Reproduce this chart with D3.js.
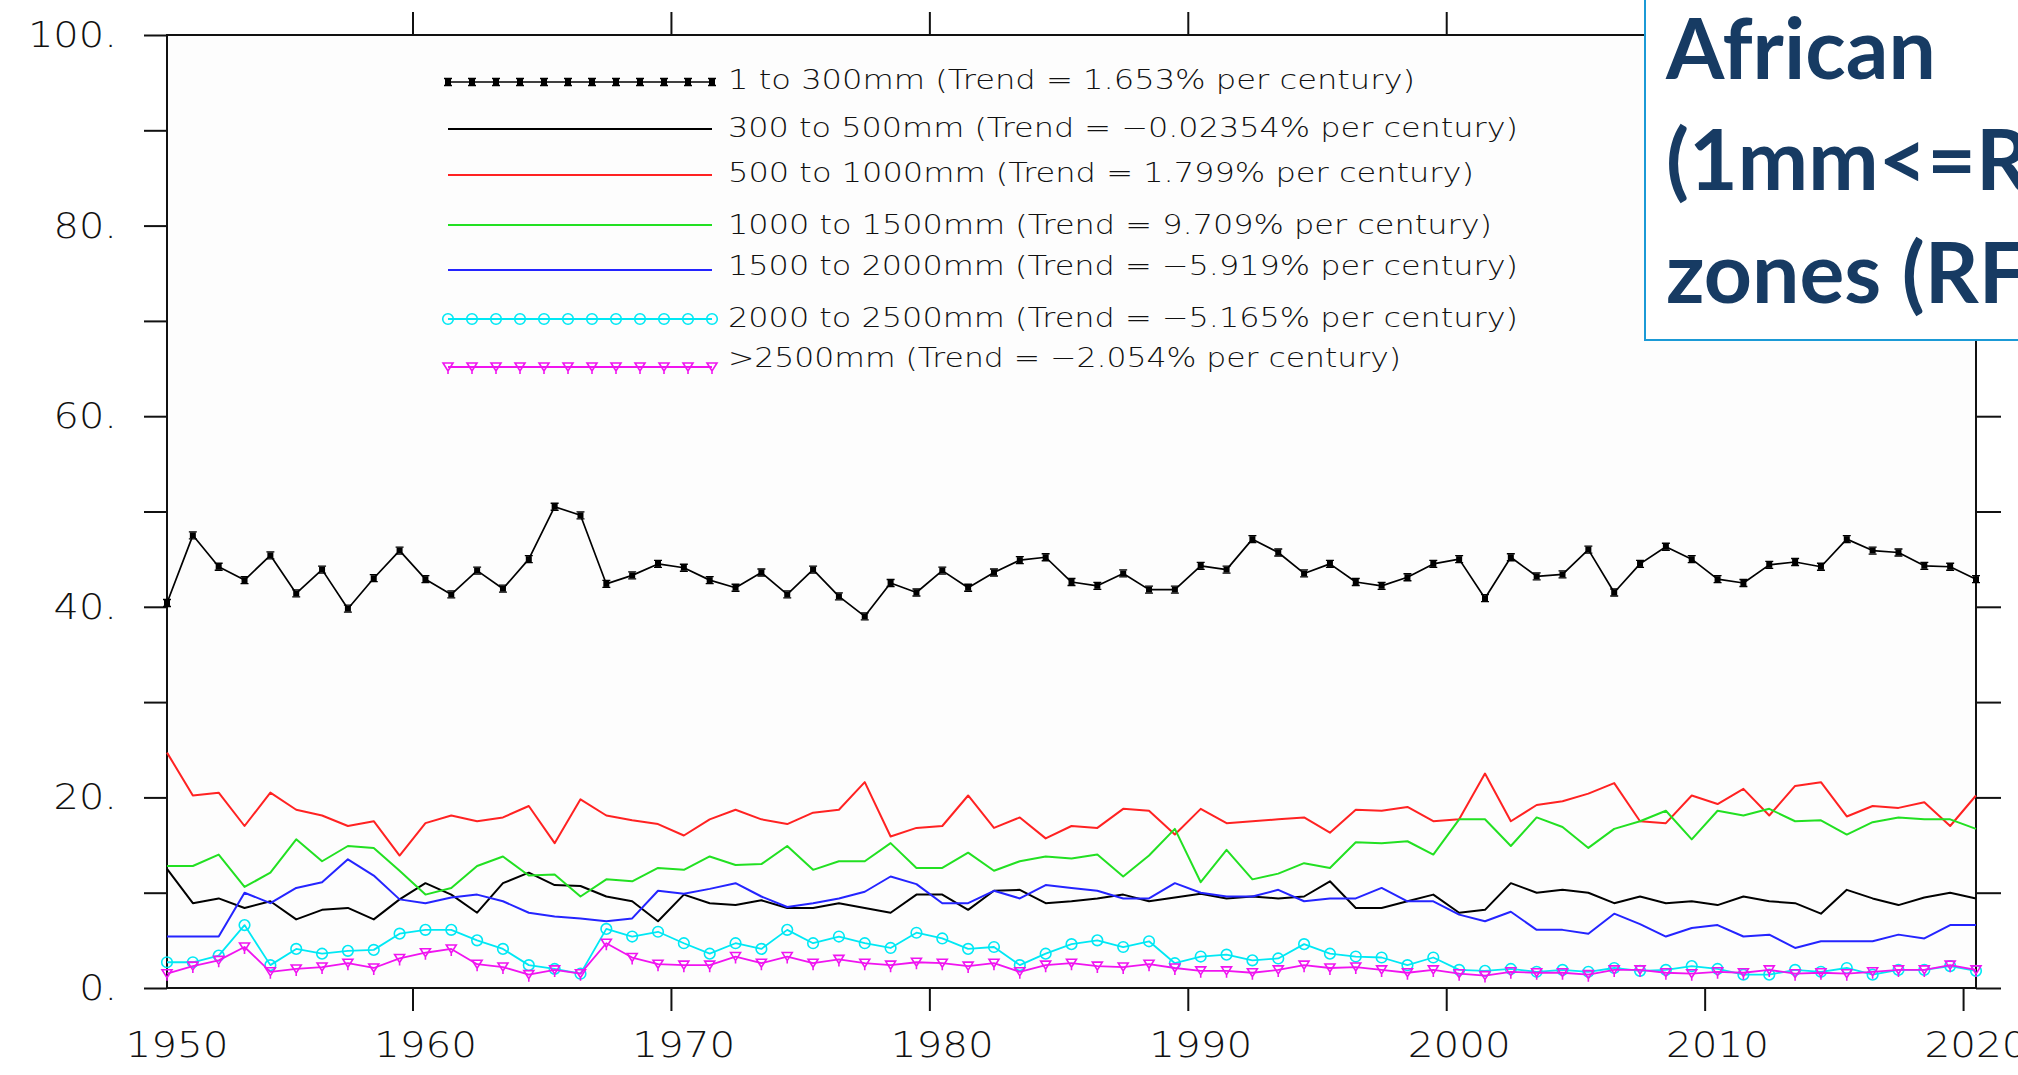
<!DOCTYPE html>
<html><head><meta charset="utf-8">
<script src="https://cdn.jsdelivr.net/npm/d3@7/dist/d3.min.js"></script>
<style>
html,body{margin:0;padding:0;background:#fff;overflow:hidden;}
svg{display:block;}
</style></head><body>
<svg id="chart" width="2018" height="1075"></svg>
<script>
// ---------------- DATA ----------------
const years = d3.range(1950, 2021); // 1950..2020

const s1to300 = [40.4, 47.5, 44.2, 42.8, 45.4, 41.4, 43.9, 39.8, 43.0, 45.9,
  42.9, 41.3, 43.8, 41.9, 45.0, 50.5, 49.6, 42.4, 43.3, 44.5,
  44.1, 42.8, 42.0, 43.6, 41.3, 43.9, 41.1, 39.0, 42.5, 41.5,
  43.8, 42.0, 43.6, 44.9, 45.2, 42.6, 42.2, 43.5, 41.8, 41.8,
  44.3, 43.9, 47.1, 45.7, 43.5, 44.5, 42.6, 42.2, 43.1, 44.5,
  45.0, 40.9, 45.2, 43.2, 43.4, 46.0, 41.5, 44.5, 46.3, 45.0,
  42.9, 42.5, 44.4, 44.7, 44.2, 47.1, 45.9, 45.7, 44.3, 44.2,
  42.9];
const s300to500 = [12.5, 8.9, 9.4, 8.4, 9.1, 7.2, 8.2, 8.4, 7.2, 9.3,
  11.0, 9.8, 7.9, 11.0, 12.1, 10.8, 10.7, 9.6, 9.1, 7.0,
  9.8, 8.9, 8.7, 9.2, 8.4, 8.4, 8.9, 8.4, 7.9, 9.8,
  9.8, 8.2, 10.2, 10.3, 8.9, 9.1, 9.4, 9.8, 9.1, 9.5,
  9.9, 9.4, 9.6, 9.4, 9.6, 11.2, 8.4, 8.4, 9.1, 9.8,
  7.9, 8.2, 11.0, 10.0, 10.3, 10.0, 8.9, 9.6, 8.9, 9.1,
  8.7, 9.6, 9.1, 8.9, 7.8, 10.3, 9.4, 8.7, 9.5, 10.0,
  9.4];
const s500to1000 = [24.7, 20.2, 20.5, 17.0, 20.5, 18.7, 18.1, 17.0, 17.5, 13.9,
  17.3, 18.1, 17.5, 17.9, 19.1, 15.2, 19.8, 18.1, 17.6, 17.2,
  16.0, 17.7, 18.7, 17.7, 17.2, 18.4, 18.7, 21.6, 15.9, 16.8,
  17.0, 20.2, 16.8, 17.9, 15.7, 17.0, 16.8, 18.8, 18.6, 16.1,
  18.8, 17.3, 17.5, 17.7, 17.9, 16.3, 18.7, 18.6, 19.0, 17.5,
  17.7, 22.5, 17.5, 19.2, 19.6, 20.4, 21.5, 17.5, 17.3, 20.2,
  19.3, 20.9, 18.1, 21.2, 21.6, 18.0, 19.1, 18.9, 19.5, 17.0,
  20.2];
const s1000to1500 = [12.8, 12.8, 14.0, 10.6, 12.1, 15.6, 13.3, 14.9, 14.7, 12.3,
  9.8, 10.5, 12.8, 13.8, 11.8, 11.9, 9.6, 11.4, 11.2, 12.6,
  12.4, 13.8, 12.9, 13.0, 14.9, 12.4, 13.3, 13.3, 15.2, 12.6,
  12.6, 14.2, 12.3, 13.3, 13.8, 13.6, 14.0, 11.7, 13.9, 16.7,
  11.1, 14.5, 11.4, 12.0, 13.1, 12.6, 15.3, 15.2, 15.4, 14.0,
  17.7, 17.7, 14.9, 17.9, 16.9, 14.7, 16.7, 17.5, 18.6, 15.6,
  18.6, 18.1, 18.8, 17.5, 17.6, 16.1, 17.4, 17.9, 17.7, 17.7,
  16.7];
const s1500to2000 = [5.4, 5.4, 5.4, 10.0, 8.9, 10.5, 11.1, 13.5, 11.8, 9.3,
  8.9, 9.5, 9.8, 9.1, 7.9, 7.5, 7.3, 7.0, 7.3, 10.2,
  9.9, 10.4, 11.0, 9.6, 8.5, 8.9, 9.4, 10.1, 11.7, 10.9,
  8.9, 8.9, 10.2, 9.4, 10.8, 10.5, 10.2, 9.4, 9.4, 11.0,
  10.0, 9.6, 9.6, 10.3, 9.1, 9.4, 9.4, 10.5, 9.1, 9.1,
  7.7, 7.0, 8.0, 6.1, 6.1, 5.7, 7.8, 6.7, 5.4, 6.3,
  6.6, 5.4, 5.6, 4.2, 4.9, 4.9, 4.9, 5.6, 5.2, 6.6,
  6.6];
const s2000to2500 = [2.7, 2.7, 3.4, 6.6, 2.4, 4.1, 3.6, 3.9, 4.0, 5.7,
  6.1, 6.1, 5.0, 4.1, 2.4, 2.0, 1.5, 6.2, 5.4, 5.9,
  4.7, 3.6, 4.7, 4.1, 6.1, 4.7, 5.4, 4.7, 4.2, 5.8,
  5.2, 4.1, 4.3, 2.4, 3.6, 4.6, 5.0, 4.3, 4.9, 2.6,
  3.3, 3.5, 2.9, 3.1, 4.6, 3.6, 3.3, 3.2, 2.4, 3.2,
  1.9, 1.8, 2.0, 1.7, 1.9, 1.7, 2.1, 1.8, 1.9, 2.3,
  2.0, 1.4, 1.4, 1.9, 1.7, 2.1, 1.4, 1.9, 1.9, 2.3,
  1.8];
const sOver2500 = [1.5, 2.3, 2.9, 4.3, 1.7, 2.0, 2.2, 2.6, 2.1, 3.1,
  3.7, 4.1, 2.5, 2.2, 1.4, 1.9, 1.5, 4.7, 3.2, 2.5,
  2.4, 2.4, 3.3, 2.6, 3.3, 2.6, 3.0, 2.6, 2.4, 2.7,
  2.6, 2.3, 2.6, 1.7, 2.4, 2.6, 2.3, 2.2, 2.5, 2.1,
  1.8, 1.8, 1.6, 1.9, 2.4, 2.1, 2.2, 1.9, 1.6, 1.9,
  1.5, 1.3, 1.7, 1.6, 1.6, 1.4, 1.9, 1.9, 1.6, 1.5,
  1.7, 1.6, 1.9, 1.5, 1.6, 1.5, 1.7, 1.9, 1.9, 2.4,
  1.9];

const seriesLabels = [
  "1 to 300mm (Trend = 1.653% per century)",
  "300 to 500mm (Trend = \u22120.02354% per century)",
  "500 to 1000mm (Trend = 1.799% per century)",
  "1000 to 1500mm (Trend = 9.709% per century)",
  "1500 to 2000mm (Trend = \u22125.919% per century)",
  "2000 to 2500mm (Trend = \u22125.165% per century)",
  ">2500mm (Trend = \u22122.054% per century)"
];
const yTickValues = [0, 10, 20, 30, 40, 50, 60, 70, 80, 90, 100];
const yTickLabels = ["0.", "", "20.", "", "40.", "", "60.", "", "80.", "", "100."];
const xTickYears = [1960, 1970, 1980, 1990, 2000, 2010, 2020];
const xLabelYears = [1950, 1960, 1970, 1980, 1990, 2000, 2010, 2020];
const titleLines = ["African", "(1mm<=RF)", "zones (RF)"];

// ---------------- STYLE / LAYOUT ----------------
const seriesValues = [s1to300, s300to500, s500to1000, s1000to1500, s1500to2000, s2000to2500, sOver2500];
const seriesStyle = [
  {color: "#000000", width: 1.7, marker: "square"},
  {color: "#000000", width: 2.0, marker: null},
  {color: "#ff2222", width: 2.0, marker: null},
  {color: "#22e022", width: 2.0, marker: null},
  {color: "#2424ff", width: 2.0, marker: null},
  {color: "#00e8f4", width: 1.8, marker: "circle"},
  {color: "#f014f0", width: 1.8, marker: "tri"}
];
const legendLineY = [82, 129, 175, 225, 270, 319, 367];
const legendTextY = [89, 137, 182, 234, 275, 327, 367];
const legendTextLen = [687, 790, 746, 764, 790, 790, 673];

const L = 167, R = 1976, T = 35, B = 988;
const svg = d3.select("#chart");
const x = d3.scaleLinear().domain([1950.5, 2020.5]).range([L, R]);
const y = d3.scaleLinear().domain([0, 100]).range([B, T]);

const axisFont = "'DejaVu Sans', 'Liberation Sans', sans-serif";

// plot background
svg.append("rect").attr("x", L).attr("y", T).attr("width", R - L).attr("height", B - T).attr("fill", "#fdfdfd");

// axes
function styleAxis(g) {
  g.select(".domain").remove();
  g.selectAll(".tick line").attr("stroke", "#111").attr("stroke-width", 2);
}
const gl = svg.append("g").attr("transform", `translate(${L},0)`)
  .call(d3.axisLeft(y).tickValues(yTickValues).tickSize(23).tickPadding(27)
    .tickFormat((d, i) => yTickLabels[i]));
styleAxis(gl);
gl.selectAll(".tick text").attr("font-family", axisFont).attr("font-size", 36).attr("fill", "#111")
  .attr("font-weight", 300)
  .each(function(d, i) {
    const t = yTickLabels[i];
    if (t) d3.select(this).attr("textLength", (t.length - 1) * 25.7 + 12).attr("lengthAdjust", "spacingAndGlyphs");
  });

const gr = svg.append("g").attr("transform", `translate(${R},0)`)
  .call(d3.axisRight(y).tickValues(yTickValues).tickSize(25).tickFormat(""));
styleAxis(gr);
const gt = svg.append("g").attr("transform", `translate(0,${T})`)
  .call(d3.axisTop(x).tickValues(xTickYears).tickSize(23).tickFormat(""));
styleAxis(gt);
const gb = svg.append("g").attr("transform", `translate(0,${B})`)
  .call(d3.axisBottom(x).tickValues(xTickYears).tickSize(23).tickFormat(""));
styleAxis(gb);

// x labels (centred on mid-year)
svg.append("g").selectAll("text").data(xLabelYears).join("text")
  .attr("x", d => Math.max(x(d + 0.5), L + 10))
  .attr("y", 1057)
  .attr("text-anchor", "middle")
  .attr("font-family", axisFont).attr("font-size", 36).attr("font-weight", 300).attr("fill", "#111")
  .attr("textLength", 103).attr("lengthAdjust", "spacingAndGlyphs")
  .text(d => d);

// frame
svg.append("rect").attr("x", L).attr("y", T).attr("width", R - L).attr("height", B - T)
  .attr("fill", "none").attr("stroke", "#111").attr("stroke-width", 2);

// markers
function drawMarker(g, type, color, px, py) {
  if (type === "square") {
    g.append("path").attr("d", `M${px-4},${py-3.5} h8 M${px-4},${py+3.5} h8`).attr("stroke", color).attr("stroke-width", 1.3);
    g.append("rect").attr("x", px - 3).attr("y", py - 3).attr("width", 6).attr("height", 6).attr("fill", color);
  } else if (type === "circle") {
    g.append("circle").attr("cx", px).attr("cy", py).attr("r", 5.3).attr("fill", "none").attr("stroke", color).attr("stroke-width", 1.6);
  } else if (type === "tri") {
    g.append("path").attr("d", `M${px-5},${py-4} H${px+5} L${px},${py+4} Z M${px},${py+4} V${py+7}`)
      .attr("fill", "none").attr("stroke", color).attr("stroke-width", 1.6);
  }
}

// series
const line = d3.line().x((d, i) => x(years[i] + 0.5)).y(d => y(d));
const plot = svg.append("g");
seriesValues.forEach((vals, si) => {
  const st = seriesStyle[si];
  const g = plot.append("g");
  g.append("path").datum(vals).attr("d", line).attr("fill", "none")
    .attr("stroke", st.color).attr("stroke-width", st.width).attr("stroke-linejoin", "round");
  if (st.marker) {
    vals.forEach((v, i) => drawMarker(g, st.marker, st.color, x(years[i] + 0.5), y(v)));
  }
});

// legend
const lg = svg.append("g");
seriesLabels.forEach((lab, i) => {
  const st = seriesStyle[i];
  const ly = legendLineY[i];
  lg.append("line").attr("x1", 448).attr("x2", 712).attr("y1", ly).attr("y2", ly)
    .attr("stroke", st.color).attr("stroke-width", st.width);
  if (st.marker) {
    d3.range(12).forEach(k => drawMarker(lg, st.marker, st.color, 448 + k * 24, ly));
  }
  lg.append("text").attr("x", 728).attr("y", legendTextY[i])
    .attr("font-family", axisFont).attr("font-size", 27).attr("font-weight", 300).attr("fill", "#111")
    .attr("textLength", legendTextLen[i]).attr("lengthAdjust", "spacingAndGlyphs")
    .text(lab);
});

// title box (its text runs past the right edge of the page, as in the original)
svg.append("rect").attr("x", 1645).attr("y", -5).attr("width", 500).attr("height", 345)
  .attr("fill", "#ffffff").attr("stroke", "#1b9ad6").attr("stroke-width", 2);
const titleBase = [79, 190, 303];
svg.append("g").selectAll("text").data(titleLines).join("text")
  .attr("x", 1666).attr("y", (d, i) => titleBase[i])
  .attr("font-family", "Lato, 'Open Sans', 'Noto Sans', sans-serif")
  .attr("font-weight", 700).attr("font-size", 84).attr("fill", "#173b63")
  .text(d => d);
</script>
</body></html>
